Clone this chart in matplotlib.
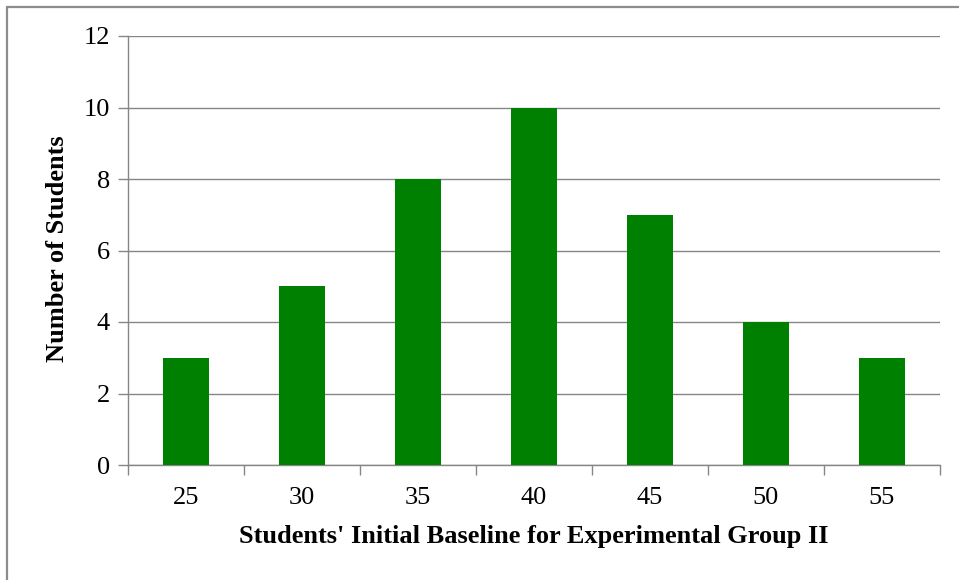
import matplotlib
matplotlib.use("Agg")
import matplotlib.pyplot as plt
from matplotlib.patches import Rectangle
import numpy as np

categories = ["25", "30", "35", "40", "45", "50", "55"]
counts = [3, 5, 8, 10, 7, 4, 3]
y_ticks = [0, 2, 4, 6, 8, 10, 12]

plt.rcParams["font.family"] = ["Liberation Serif", "DejaVu Serif"]

fig = plt.figure(figsize=(9.59, 5.8), dpi=100)
fig.patch.set_facecolor("white")
# chart-area frame: only its top and left edges fall inside the canvas
fig.patches.append(Rectangle((7 / 959, -10 / 580), 970 / 959, 583 / 580,
                             transform=fig.transFigure, fill=False,
                             edgecolor="#8c8c8c", linewidth=1.6))

ax = fig.add_axes([128 / 959, 1 - 465 / 580, 812 / 959, 429 / 580])
x = np.arange(len(categories))
ax.bar(x, counts, width=0.4, color="#008000", zorder=3)

ax.set_xlim(-0.5, len(categories) - 0.5)
ax.set_ylim(0, 12)
ax.set_yticks(y_ticks)
ax.set_yticklabels([str(v) for v in y_ticks], fontsize=19)
ax.set_xticks(x)
ax.set_xticklabels(categories, fontsize=19)
ax.set_xticks(np.arange(len(categories) + 1) - 0.5, minor=True)

ax.tick_params(axis="x", which="major", length=0, pad=16)
ax.tick_params(axis="x", which="minor", length=7, color="#868686", width=1)
ax.tick_params(axis="y", which="major", length=7, color="#868686", width=1, pad=6)

ax.grid(axis="y", color="#868686", linewidth=1, zorder=0)
for s in ["top", "right"]:
    ax.spines[s].set_visible(False)
for s in ["left", "bottom"]:
    ax.spines[s].set_color("#868686")
    ax.spines[s].set_linewidth(1)

ax.set_ylabel("Number of Students", fontsize=19, fontweight="bold",
              va="center")
ax.yaxis.set_label_coords(-70 / 812, 0.505)
ax.set_xlabel("Students' Initial Baseline for Experimental Group II",
              fontsize=19, fontweight="bold", va="center")
ax.xaxis.set_label_coords(0.5, -71 / 429)

fig.savefig("out.png", dpi=100)
